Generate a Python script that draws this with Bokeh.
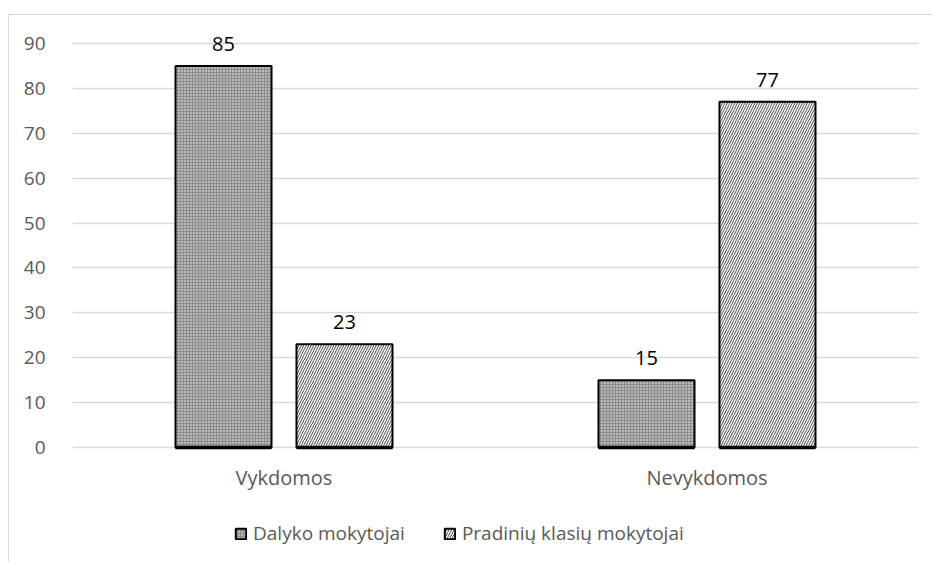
from bokeh.plotting import figure
from bokeh.models import ColumnDataSource, LabelSet, Legend, LegendItem, FactorRange
from bokeh.layouts import column
from bokeh.transform import dodge
from bokeh.core.properties import value
from bokeh.embed import file_html
from bokeh.resources import INLINE

categories = ["Vykdomos", "Nevykdomos"]
dalyko = [85, 15]
pradiniu = [23, 77]
series_names = ["Dalyko mokytojai", "Pradinių klasių mokytojai"]
y_ticks = [0, 10, 20, 30, 40, 50, 60, 70, 80, 90]

FONT = "Open Sans"
OFF = 0.143
BW = 0.227

src = ColumnDataSource(dict(cat=categories, d=dalyko, p=pradiniu, zero=[0, 0],
                            dl=[str(v) for v in dalyko], pl=[str(v) for v in pradiniu]))

style1 = dict(fill_color="#8c8c8c", line_color="black", line_width=2,
              hatch_pattern="dot", hatch_color="white", hatch_scale=3, hatch_weight=1.5)
style2 = dict(fill_color="white", line_color="black", line_width=2,
              hatch_pattern="right_diagonal_line", hatch_color="#333333", hatch_scale=5, hatch_weight=0.9)

p = figure(x_range=FactorRange(*categories), y_range=(-0.668, 94.9),
           width=924, height=491, output_backend="svg", toolbar_location=None,
           min_border_left=63, min_border_right=15, min_border_top=6, min_border_bottom=56)
p.outline_line_color = None

p.xgrid.grid_line_color = None
p.ygrid.grid_line_color = "#d9d9d9"
p.ygrid.grid_line_width = 1.5

p.vbar(x=dodge("cat", -OFF, range=p.x_range), top="d", width=BW, source=src, **style1)
p.vbar(x=dodge("cat", OFF, range=p.x_range), top="p", width=BW, source=src, **style2)

for off in (-OFF, OFF):
    p.segment(x0=dodge("cat", off - BW / 2, range=p.x_range), y0="zero",
              x1=dodge("cat", off + BW / 2, range=p.x_range), y1="zero",
              source=src, line_color="black", line_width=3.5)

p.add_layout(LabelSet(x=dodge("cat", -OFF, range=p.x_range), y="d", text="dl", source=src,
                      text_align="center", text_baseline="middle", y_offset=22,
                      text_font=value(FONT), text_font_size="20px", text_color="black"))
p.add_layout(LabelSet(x=dodge("cat", OFF, range=p.x_range), y="p", text="pl", source=src,
                      text_align="center", text_baseline="middle", y_offset=22,
                      text_font=value(FONT), text_font_size="20px", text_color="black"))

p.yaxis.ticker = y_ticks
p.yaxis.axis_line_color = None
p.yaxis.major_tick_line_color = None
p.yaxis.minor_tick_line_color = None
p.yaxis.major_label_standoff = 21
p.yaxis.major_label_text_font = FONT
p.yaxis.major_label_text_font_size = "19px"
p.yaxis.major_label_text_color = "#595959"

p.xaxis.axis_line_color = None
p.xaxis.major_tick_line_color = None
p.xaxis.minor_tick_line_color = None
p.xaxis.major_label_standoff = 7
p.xaxis.major_label_text_font = FONT
p.xaxis.major_label_text_font_size = "20px"
p.xaxis.major_label_text_color = "#595959"

# legend strip below the chart
q = figure(x_range=FactorRange(*categories), y_range=(1000, 1001),
           width=924, height=56, output_backend="svg", toolbar_location=None,
           min_border=0)
q.axis.visible = False
q.grid.visible = False
q.outline_line_color = None
l1 = q.vbar(x=dodge("cat", -OFF, range=q.x_range), top="d", width=BW, source=src, **style1)
l2 = q.vbar(x=dodge("cat", OFF, range=q.x_range), top="p", width=BW, source=src, **style2)

legend = Legend(items=[LegendItem(label=series_names[0], renderers=[l1]),
                       LegendItem(label=series_names[1], renderers=[l2])],
                orientation="horizontal", location=(162, 16),
                label_text_font=FONT, label_text_font_size="19px", label_text_color="#595959",
                glyph_width=13, glyph_height=13, label_standoff=6, spacing=38,
                border_line_color=None, background_fill_alpha=0, padding=0, margin=0)
q.add_layout(legend, "center")

layout = column(p, q, spacing=0)
layout.margin = (14, 0, 0, 8)
layout.styles = {"border-left": "1.5px solid #d9d9d9", "border-top": "1.5px solid #d9d9d9"}

open("out.html", "w").write(file_html(layout, INLINE))
